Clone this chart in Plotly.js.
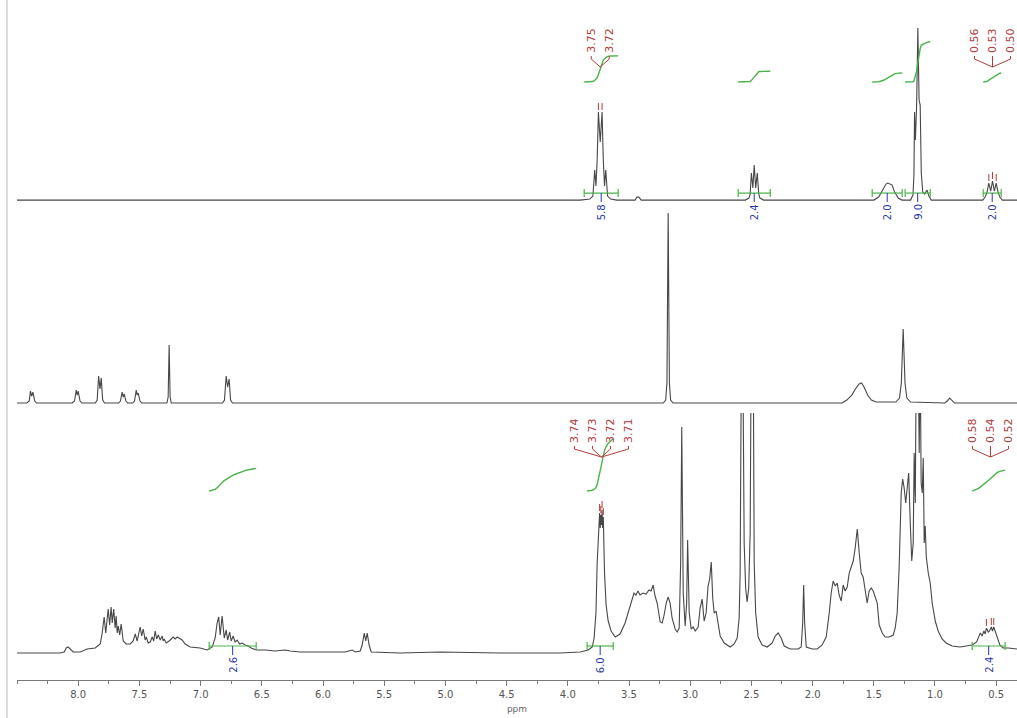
<!DOCTYPE html>
<html>
<head>
<meta charset="utf-8">
<script src="https://cdn.plot.ly/plotly-3.0.1.min.js"></script>
<style>
  html, body { margin: 0; padding: 0; background: #ffffff; }
  #nmr { width: 1017px; height: 718px; }
</style>
</head>
<body>
<div id="nmr"></div>
<script>
// Chemical-shift axis (ppm, reversed as usual for 1H NMR)
const tickValues = [8.0, 7.5, 7.0, 6.5, 6.0, 5.5, 5.0, 4.5, 4.0, 3.5, 3.0, 2.5, 2.0, 1.5, 1.0, 0.5];
const ppmRange = [8.5, 0.33];

// Upper trace: [ppm, intensity]
const upperSpectrum = [
  [8.50,0],[3.90,0],[3.82,1],[3.795,4],[3.78,30],[3.77,14],[3.76,40],[3.75,88],[3.735,58],[3.72,88],
  [3.71,40],[3.70,14],[3.69,30],[3.675,4],[3.65,1],[3.60,0],[3.45,0],[3.435,3],[3.42,3],[3.40,0],
  [2.55,0],[2.52,2],[2.51,6],[2.50,27],[2.488,12],[2.477,35],[2.465,12],[2.452,27],[2.44,6],[2.43,2],[2.40,0],
  [1.50,0],[1.46,3],[1.42,12],[1.40,16],[1.385,17],[1.37,16],[1.35,15],[1.33,8],[1.30,2],[1.27,0],
  [1.20,0],[1.18,5],[1.172,25],[1.167,88],[1.16,60],[1.15,95],[1.14,172],[1.13,100],[1.121,95],[1.112,27],
  [1.10,8],[1.085,6],[1.065,10],[1.05,4],[1.03,0],
  [0.61,0],[0.59,3],[0.575,8],[0.56,17],[0.545,9],[0.53,19],[0.515,9],[0.50,17],[0.485,8],[0.47,3],[0.45,0],[0.33,0]
];

// Middle trace: [ppm, intensity]
const middleSpectrum = [
  [8.50,0],[8.42,0],[8.40,2],[8.39,12],[8.38,7],[8.37,11],[8.355,2],[8.34,0],
  [8.05,0],[8.03,2],[8.016,13],[8.008,8],[8.000,12],[7.985,2],[7.97,0],
  [7.86,0],[7.845,3],[7.833,27],[7.822,14],[7.812,25],[7.80,3],[7.785,0],
  [7.67,0],[7.655,2],[7.641,11],[7.632,6],[7.624,9],[7.61,2],[7.595,0],
  [7.555,0],[7.54,2],[7.526,13],[7.518,8],[7.510,10],[7.495,2],[7.48,0],
  [7.275,0],[7.265,6],[7.257,58],[7.249,6],[7.24,0],
  [6.82,0],[6.805,3],[6.791,27],[6.779,16],[6.767,24],[6.755,3],[6.74,0],
  [3.22,0],[3.20,3],[3.19,20],[3.18,190],[3.17,20],[3.16,3],[3.14,0],
  [1.76,0],[1.72,3],[1.68,8],[1.65,14],[1.62,19],[1.60,20],[1.58,16],[1.55,8],[1.52,3],[1.48,1],
  [1.32,1],[1.29,5],[1.275,20],[1.26,74],[1.245,20],[1.23,5],[1.20,1],
  [0.92,0],[0.90,2],[0.88,5],[0.86,2],[0.84,0],[0.33,0]
];

// Lower trace: [ppm, intensity]
const lowerSpectrum = [
  [8.50,0],[8.15,0],[8.114,1],[8.098,5],[8.082,6],[8.065,4],[8.041,1],[7.984,1],[7.927,4],[7.861,5],
  [7.820,9],[7.804,20],[7.788,36],[7.775,20],[7.755,44],[7.743,28],[7.731,46],[7.722,30],[7.710,44],[7.698,25],
  [7.690,37],[7.681,20],[7.673,27],[7.661,18],[7.649,29],[7.632,12],[7.608,9],[7.575,9],[7.551,12],[7.534,19],
  [7.518,12],[7.494,26],[7.481,17],[7.469,24],[7.453,13],[7.444,16],[7.428,10],[7.412,11],[7.395,16],[7.383,12],
  [7.371,22],[7.359,14],[7.346,18],[7.330,13],[7.314,17],[7.306,12],[7.298,14],[7.281,10],[7.257,12],[7.224,16],
  [7.208,14],[7.191,16],[7.167,14],[7.151,13],[7.126,9],[7.085,6],[7.004,5],[6.947,3],[6.905,6],[6.881,15],
  [6.865,30],[6.852,36],[6.840,18],[6.824,37],[6.807,15],[6.791,23],[6.779,13],[6.762,21],[6.750,12],[6.734,17],
  [6.718,11],[6.701,13],[6.681,9],[6.660,10],[6.636,8],[6.611,7],[6.587,5],[6.546,3],[6.472,3],[6.391,2],
  [6.309,3],[6.268,2],[6.186,1],[6.023,1],[5.819,1],[5.762,3],[5.737,1],[5.696,2],[5.680,8],[5.663,20],
  [5.651,12],[5.639,20],[5.623,8],[5.606,1],[5.369,0],[5.043,1],[4.552,0],[4.062,0],[3.899,1],[3.833,3],
  [3.80,6],[3.785,15],[3.77,40],[3.76,90],[3.75,120],[3.74,140],[3.735,125],[3.73,138],[3.725,128],[3.72,143],
  [3.715,125],[3.71,136],[3.70,80],[3.687,48],[3.670,32],[3.646,22],[3.613,16],[3.573,19],[3.532,30],[3.508,40],
  [3.475,52],[3.459,60],[3.443,58],[3.427,62],[3.410,58],[3.386,60],[3.361,59],[3.336,63],[3.319,62],[3.303,68],
  [3.287,57],[3.270,50],[3.245,31],[3.229,30],[3.213,38],[3.196,50],[3.180,56],[3.164,50],[3.148,35],[3.123,24],
  [3.106,21],[3.090,25],[3.078,90],[3.069,226],[3.057,60],[3.041,27],[3.029,50],[3.021,113],[3.008,40],[2.992,24],
  [2.976,26],[2.959,22],[2.935,26],[2.919,45],[2.902,54],[2.886,32],[2.870,40],[2.854,67],[2.841,74],[2.828,91],
  [2.816,55],[2.804,40],[2.788,42],[2.771,30],[2.755,17],[2.722,10],[2.673,6],[2.641,9],[2.616,15],[2.600,35],
  [2.592,80],[2.584,250],[2.575,900],[2.567,250],[2.559,110],[2.547,65],[2.535,51],[2.522,65],[2.510,120],[2.502,300],
  [2.493,900],[2.485,300],[2.477,90],[2.465,40],[2.445,16],[2.412,8],[2.371,6],[2.330,10],[2.306,17],[2.281,20],
  [2.257,15],[2.232,7],[2.183,4],[2.118,4],[2.093,6],[2.081,30],[2.073,68],[2.065,30],[2.052,6],[2.003,4],
  [1.962,4],[1.922,8],[1.889,16],[1.864,40],[1.848,60],[1.832,72],[1.815,67],[1.799,70],[1.783,58],[1.766,52],
  [1.750,68],[1.734,62],[1.717,66],[1.701,80],[1.685,85],[1.668,92],[1.652,105],[1.635,124],[1.619,100],[1.603,80],
  [1.587,76],[1.570,63],[1.554,50],[1.538,62],[1.521,65],[1.505,62],[1.489,55],[1.472,50],[1.456,28],[1.431,20],
  [1.407,16],[1.374,16],[1.341,18],[1.325,25],[1.309,40],[1.293,85],[1.276,160],[1.264,174],[1.252,165],[1.239,150],
  [1.227,165],[1.215,180],[1.202,130],[1.190,92],[1.178,110],[1.170,200],[1.161,150],[1.153,300],[1.145,250],[1.137,300],
  [1.129,200],[1.121,300],[1.113,170],[1.104,160],[1.096,195],[1.088,110],[1.080,127],[1.071,96],[1.055,80],[1.039,70],
  [1.023,50],[0.998,32],[0.974,22],[0.942,14],[0.909,10],[0.860,7],[0.795,6],[0.737,7],[0.696,8],[0.66,11],
  [0.645,15],[0.63,20],[0.615,17],[0.60,22],[0.59,19],[0.58,25],[0.565,21],[0.555,22],[0.54,26],[0.53,22],
  [0.52,26],[0.505,20],[0.49,14],[0.47,8],[0.443,5],[0.402,5],[0.33,4]
];

// Integration regions [from, to] in ppm and their relative integrals
const upperIntegralRanges = [[3.866,3.588],[2.608,2.346],[1.513,1.268],[1.244,1.039],[0.606,0.459]];
const upperIntegralValues = [5.8, 2.4, 2.0, 9.0, 2.0];
const lowerIntegralRanges = [[6.930,6.546],[3.842,3.629],[0.696,0.427]];
const lowerIntegralValues = [2.6, 6.0, 2.4];

// Picked multiplet lines (ppm)
const upperMultiplets = [[3.75,3.72],[0.56,0.53,0.50]];
const lowerMultiplets = [[3.74,3.73,3.72,3.71],[0.58,0.54,0.52]];

// ---- styling ----
const FONT = 'DejaVu Sans, Verdana, sans-serif';
const INK = '#474747';
const GREEN = '#4cb34c';
const BLUE = '#2b36a8';
const RED = '#b03a3a';
const AXIS_GREY = '#7a7a7a';
const LABEL_STEP = 0.147;   // ppm between neighbouring multiplet labels

// linear lookup of the intensity at a given ppm (spectrum sorted high -> low ppm)
function intensityAt(spec, ppm) {
  for (let i = 0; i < spec.length - 1; i++) {
    const a = spec[i], b = spec[i + 1];
    if (ppm <= a[0] && ppm >= b[0]) {
      const t = (a[0] - ppm) / (a[0] - b[0] || 1);
      return a[1] + t * (b[1] - a[1]);
    }
  }
  return 0;
}

// running integral of the spectrum over [from, to], scaled to the reported value
function integralCurve(spec, from, to, value, base, scale) {
  const pts = [[from, intensityAt(spec, from)]];
  spec.forEach(p => { if (p[0] < from && p[0] > to) pts.push(p); });
  pts.push([to, intensityAt(spec, to)]);
  const cum = [0];
  for (let i = 1; i < pts.length; i++) {
    cum.push(cum[i - 1] + 0.5 * (pts[i][1] + pts[i - 1][1]) * (pts[i - 1][0] - pts[i][0]));
  }
  const total = cum[cum.length - 1] || 1;
  return {
    x: pts.map(p => p[0]),
    y: cum.map(c => base + (c / total) * value * scale)
  };
}

const traces = [];
const annotations = [];

function lineTrace(x, y, yaxis, color, width) {
  return { type: 'scatter', mode: 'lines', x, y, xaxis: 'x', yaxis,
           line: { color, width }, hoverinfo: 'skip', showlegend: false };
}

function addSpectrum(spec, yaxis) {
  traces.push(lineTrace(spec.map(p => p[0]), spec.map(p => p[1]), yaxis, INK, 1.1));
}

function addIntegrals(spec, ranges, values, yaxis, opt) {
  ranges.forEach((r, i) => {
    const [from, to] = r;
    const mid = (from + to) / 2;
    const curve = integralCurve(spec, from, to, values[i], opt.curveBase, opt.curveScale);
    traces.push(lineTrace(curve.x, curve.y, yaxis, GREEN, 1.4));
    // baseline bracket with end caps
    traces.push(lineTrace(
      [from, from, null, from, to, null, to, to],
      [opt.bracket - 4, opt.bracket + 4, null, opt.bracket, opt.bracket, null, opt.bracket - 4, opt.bracket + 4],
      yaxis, GREEN, 1.2));
    // blue stub and value
    traces.push(lineTrace([mid, mid], [opt.bracket, opt.bracket - 9], yaxis, BLUE, 1));
    annotations.push({
      x: mid, y: opt.bracket - 10, xref: 'x', yref: yaxis, text: values[i].toFixed(1),
      textangle: -90, xanchor: 'center', yanchor: 'top', showarrow: false,
      font: { family: FONT, size: 10, color: BLUE }, borderpad: 0
    });
  });
}

function addMultiplets(spec, groups, yaxis, opt) {
  groups.forEach(vals => {
    const n = vals.length;
    const centre = vals.reduce((s, v) => s + v, 0) / n;
    vals.forEach((v, i) => {
      const lx = centre + ((n - 1) / 2 - i) * LABEL_STEP;
      annotations.push({
        x: lx, y: opt.labelBase, xref: 'x', yref: yaxis, text: v.toFixed(2),
        textangle: -90, xanchor: 'center', yanchor: 'bottom', showarrow: false,
        font: { family: FONT, size: 11, color: RED }, borderpad: 0
      });
      traces.push(lineTrace([lx, lx, centre], [opt.labelBase - 2, opt.labelBase - 5, opt.join], yaxis, RED, 1));
      const h = intensityAt(spec, v);
      traces.push(lineTrace([v, v], [h + 2, h + 9], yaxis, RED, 1));
    });
  });
}

addSpectrum(upperSpectrum, 'y');
addSpectrum(middleSpectrum, 'y2');
addSpectrum(lowerSpectrum, 'y3');

addIntegrals(upperSpectrum, upperIntegralRanges, upperIntegralValues, 'y',
  { curveBase: 118, curveScale: 4.5, bracket: 7 });
addIntegrals(lowerSpectrum, lowerIntegralRanges, lowerIntegralValues, 'y3',
  { curveBase: 162, curveScale: 8.7, bracket: 7 });

addMultiplets(upperSpectrum, upperMultiplets, 'y', { labelBase: 146, join: 133 });
addMultiplets(lowerSpectrum, lowerMultiplets, 'y3', { labelBase: 209, join: 196 });

const hiddenY = { visible: false, showgrid: false, zeroline: false, fixedrange: true };

const layout = {
  width: 1017, height: 718,
  margin: { l: 17, r: 0, t: 0, b: 38 },
  paper_bgcolor: '#ffffff', plot_bgcolor: '#ffffff',
  showlegend: false,
  xaxis: {
    range: ppmRange, anchor: 'y3',
    tickvals: tickValues, ticktext: tickValues.map(v => v.toFixed(1)),
    ticks: 'outside', ticklen: 5, tickcolor: AXIS_GREY, tickwidth: 1,
    minor: { dtick: 0.25, tick0: 0, ticks: 'outside', ticklen: 3, tickcolor: AXIS_GREY },
    showline: true, linecolor: AXIS_GREY, linewidth: 1,
    showgrid: false, zeroline: false,
    tickfont: { family: FONT, size: 10, color: '#555555' },
    title: { text: 'ppm', font: { family: FONT, size: 9, color: '#666666' }, standoff: 6 }
  },
  yaxis:  Object.assign({ domain: [0.694, 1], range: [-8, 200] }, hiddenY),
  yaxis2: Object.assign({ domain: [0.3926, 0.694], range: [-10, 195] }, hiddenY),
  yaxis3: Object.assign({ domain: [0, 0.3926], range: [-27, 240] }, hiddenY),
  annotations,
  shapes: [
    { type: 'line', xref: 'paper', yref: 'paper', x0: -0.010, x1: -0.010, y0: -0.056, y1: 1,
      line: { color: '#cfcfcf', width: 1.5 } }
  ]
};

Plotly.newPlot('nmr', traces, layout, { staticPlot: true, displayModeBar: false });
</script>
</body>
</html>
